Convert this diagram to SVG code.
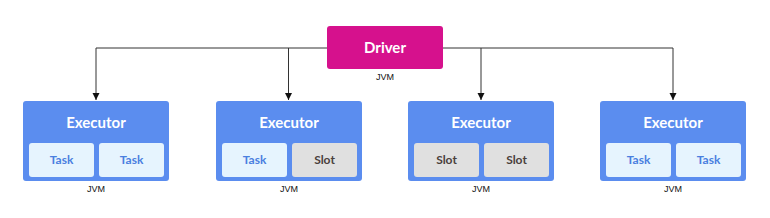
<svg xmlns="http://www.w3.org/2000/svg" width="770" height="218" viewBox="0 0 770 218">
<style>
.exec{fill:#5B8DEF}
.title{font-family:Lato,"Liberation Sans",sans-serif;font-weight:bold;font-size:15px;fill:#fff;text-anchor:middle}
.task{fill:#E6F4FE}
.slot{fill:#E0E0E0}
.tt{font-family:Lato,"Liberation Sans",sans-serif;font-weight:bold;font-size:12px;fill:#4A7FE0;text-anchor:middle}
.st{font-family:Lato,"Liberation Sans",sans-serif;font-weight:bold;font-size:12px;fill:#4A403C;text-anchor:middle}
.jvm{font-family:"Liberation Sans",Arial,sans-serif;font-size:9px;fill:#111;text-anchor:middle}
.conn{stroke:#333;stroke-width:1;fill:none}
</style>
<defs>
<marker id="arr" markerWidth="8" markerHeight="8" refX="7" refY="4" orient="auto" markerUnits="userSpaceOnUse">
<path d="M0,0.5 L7,4 L0,7.5 Z" fill="#111"/>
</marker>
</defs>
<rect width="770" height="218" fill="#fff"/>
<g id="connectors">
<path class="conn" d="M96,48 H673"/>
<path class="conn" d="M96,48 V100" marker-end="url(#arr)"/>
<path class="conn" d="M288.5,48 V100" marker-end="url(#arr)"/>
<path class="conn" d="M481,48 V100" marker-end="url(#arr)"/>
<path class="conn" d="M673,48 V100" marker-end="url(#arr)"/>
</g>
<g id="driver">
<rect x="327" y="26" width="116" height="43" rx="3" fill="#D6118D"/>
<text x="385" y="53" class="title">Driver</text>
<text x="385" y="80" class="jvm">JVM</text>
</g>
<g id="executor1">
<rect class="exec" x="23" y="101" width="146" height="80" rx="3"/>
<text x="96" y="128" class="title">Executor</text>
<rect class="task" x="29" y="143" width="65" height="34" rx="3"/>
<text x="61.5" y="164" class="tt">Task</text>
<rect class="task" x="99" y="143" width="65" height="34" rx="3"/>
<text x="131.5" y="164" class="tt">Task</text>
<text x="96" y="192" class="jvm">JVM</text>
</g>
<g id="executor2">
<rect class="exec" x="216" y="101" width="146" height="80" rx="3"/>
<text x="289" y="128" class="title">Executor</text>
<rect class="task" x="222" y="143" width="65" height="34" rx="3"/>
<text x="254.5" y="164" class="tt">Task</text>
<rect class="slot" x="292" y="143" width="65" height="34" rx="3"/>
<text x="324.5" y="164" class="st">Slot</text>
<text x="289" y="192" class="jvm">JVM</text>
</g>
<g id="executor3">
<rect class="exec" x="408" y="101" width="146" height="80" rx="3"/>
<text x="481" y="128" class="title">Executor</text>
<rect class="slot" x="414" y="143" width="65" height="34" rx="3"/>
<text x="446.5" y="164" class="st">Slot</text>
<rect class="slot" x="484" y="143" width="65" height="34" rx="3"/>
<text x="516.5" y="164" class="st">Slot</text>
<text x="481" y="192" class="jvm">JVM</text>
</g>
<g id="executor4">
<rect class="exec" x="600" y="101" width="146" height="80" rx="3"/>
<text x="673" y="128" class="title">Executor</text>
<rect class="task" x="606" y="143" width="65" height="34" rx="3"/>
<text x="638.5" y="164" class="tt">Task</text>
<rect class="task" x="676" y="143" width="65" height="34" rx="3"/>
<text x="708.5" y="164" class="tt">Task</text>
<text x="673" y="192" class="jvm">JVM</text>
</g>
</svg>
